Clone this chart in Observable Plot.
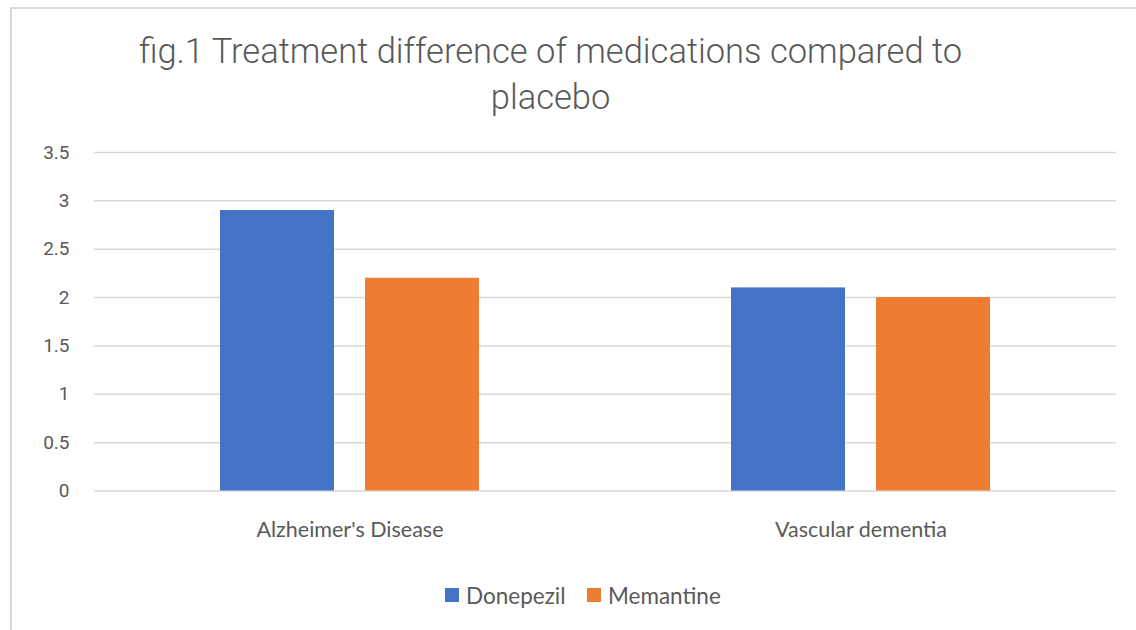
<!DOCTYPE html>
<html>
<head>
<meta charset="utf-8">
<script src="https://cdn.jsdelivr.net/npm/d3@7"></script>
<script src="https://cdn.jsdelivr.net/npm/@observablehq/plot@0.6"></script>
<style>
  html, body { margin: 0; padding: 0; background: #fff; overflow: hidden; }
  #wrap { position: relative; width: 1136px; height: 630px; overflow: hidden; }
  #frame { position: absolute; left: 10px; top: 7px; width: 1200px; height: 700px; border: 2px solid #d9d9d9; box-sizing: border-box; }
  #title { position: absolute; left: 0; width: 1101px; top: 28px; text-align: center; font-family: Roboto, sans-serif; font-weight: 300; font-size: 34.5px; line-height: 46px; color: #595959; }
  #chart { position: absolute; left: 0; top: 0; }
  #legend { position: absolute; left: 0; width: 1136px; top: 582px; font-family: Lato, sans-serif; font-size: 22.5px; color: #595959; }
  .item { position: absolute; top: 0; display: flex; align-items: center; height: 26px; }
  .sw { width: 14px; height: 14px; margin-right: 7px; }
</style>
</head>
<body>
<div id="wrap">
  <div id="frame"></div>
  <div id="chart"></div>
  <div id="title">fig.1 Treatment difference of medications compared to<br>placebo</div>
  <div id="legend"></div>
</div>
<script>
const categories = ["Alzheimer's Disease", "Vascular dementia"];
const series = ["Donepezil", "Memantine"];
const donepezil = [2.9, 2.1];
const memantine = [2.2, 2.0];
const yTicks = [0, 0.5, 1, 1.5, 2, 2.5, 3, 3.5];
const colors = ["#4472C4", "#ED7D31"];

const data = [];
categories.forEach((c, i) => {
  data.push({category: c, series: series[0], value: donepezil[i]});
  data.push({category: c, series: series[1], value: memantine[i]});
});

const chart = Plot.plot({
  width: 1136,
  height: 560,
  marginLeft: 93,
  marginRight: 20,
  marginTop: 152,
  marginBottom: 69.5,
  style: {fontFamily: "Roboto, sans-serif", color: "#595959", background: "transparent"},
  fx: {domain: categories, paddingInner: 0, paddingOuter: 0, label: null, axis: null},
  x: {domain: series, paddingInner: 0.2123, paddingOuter: 0.858, axis: null},
  y: {domain: [0, 3.5], label: null},
  color: {domain: series, range: colors},
  marks: [
    Plot.ruleY(yTicks, {stroke: "#d9d9d9", strokeWidth: 1.5}),
    Plot.barY(data, {fx: "category", x: "series", y: "value", fill: "series"}),
    Plot.axisY({ticks: yTicks, tickSize: 0, tickPadding: 25, tickFormat: d => String(d), fontSize: 19, fill: "#595959"}),
    Plot.axisFx({anchor: "bottom", tickSize: 0, tickPadding: 31, fontSize: 21.5, fontFamily: "Lato, sans-serif", fill: "#595959", label: null})
  ]
});
document.getElementById("chart").appendChild(chart);

const legend = document.getElementById("legend");
const lx = [445, 587];
series.forEach((s, i) => {
  const it = document.createElement("div");
  it.className = "item";
  it.style.left = lx[i] + "px";
  const sw = document.createElement("div");
  sw.className = "sw";
  sw.style.background = colors[i];
  const t = document.createElement("span");
  t.textContent = s;
  it.appendChild(sw); it.appendChild(t);
  legend.appendChild(it);
});
</script>
</body>
</html>
